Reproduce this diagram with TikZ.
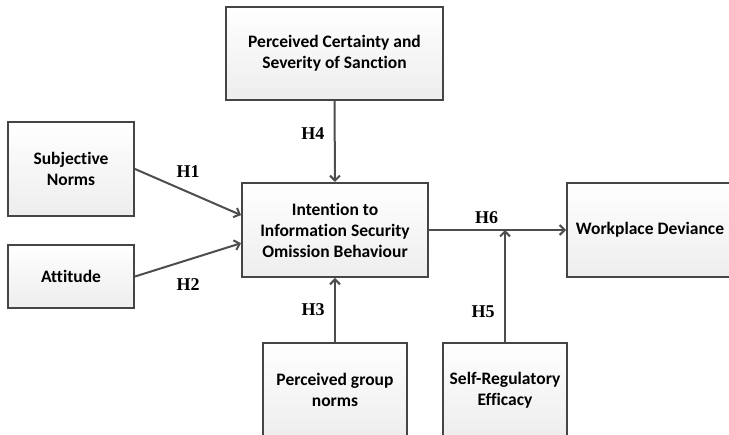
\documentclass[tikz,border=0pt]{standalone}
\usepackage{fontspec}
\setmainfont{Carlito}[Ligatures=NoCommon]
\newfontfamily\hypfont{Liberation Serif}
\usetikzlibrary{arrows.meta}
\usetikzlibrary{positioning}
\definecolor{boxline}{HTML}{454545}
\definecolor{arrowline}{HTML}{4D4D4D}

\begin{document}
\begin{tikzpicture}[x=1pt,y=-1pt]
	\useasboundingbox (0,0) rectangle (729,435);
	\begin{scope}[every node/.style={rectangle, draw=boxline, line width=2pt, top color=white, bottom color=black!7, align=center, minimum height=94pt, inner sep=2pt, font=\fontsize{17.5}{21}\selectfont\bfseries}]
	    	\node[minimum width=217pt, minimum height=93pt] (1) at (334.5,53.5) {Perceived Certainty and\\Severity of Sanction};
	    	\node[minimum width=126pt] 	(2) at (71,169) {Subjective\\Norms};
	    	\node[minimum width=126pt, minimum height=63pt] (3) at (71,276.5) {Attitude};
	    	\node[minimum width=186pt] 	(4) at (335,230) {Intention to\\Information Security\\Omission Behaviour};
	    	\node[minimum width=166pt] 	(5) at (650,230) {Workplace Deviance};
	    	\node[minimum width=144pt] 	(6) at (335,390) {Perceived group\\norms};
	    	\node[minimum width=124pt] 	(7) at (505,390) {Self-Regulatory\\Efficacy};
	\end{scope}
	\coordinate (8) at (7 |- 4);
	\begin{scope}[>={Straight Barb[length=5pt,width=10pt]},
	              every node/.style={font=\hypfont\fontsize{18}{18}\selectfont\bfseries},
	              every edge/.style={draw=arrowline, line width=2pt, ->}]
		\path (2.east) edge node[above=10pt] {H1} (4.171);
		\path (3.east) edge node[below=14pt] {H2} (4.188);
		\path (6.north) edge node[left=6pt] {H3} (4.south);
		\path (1.south) edge node[left=6pt, pos=0.4] {H4} (4.north);
		\path (7.north) edge node[left=6pt, pos=0.27] {H5} (8);
		\path (4.east) edge node[above=2pt, pos=0.42] {H6} (5.west);
	\end{scope}
\end{tikzpicture}
\end{document}
